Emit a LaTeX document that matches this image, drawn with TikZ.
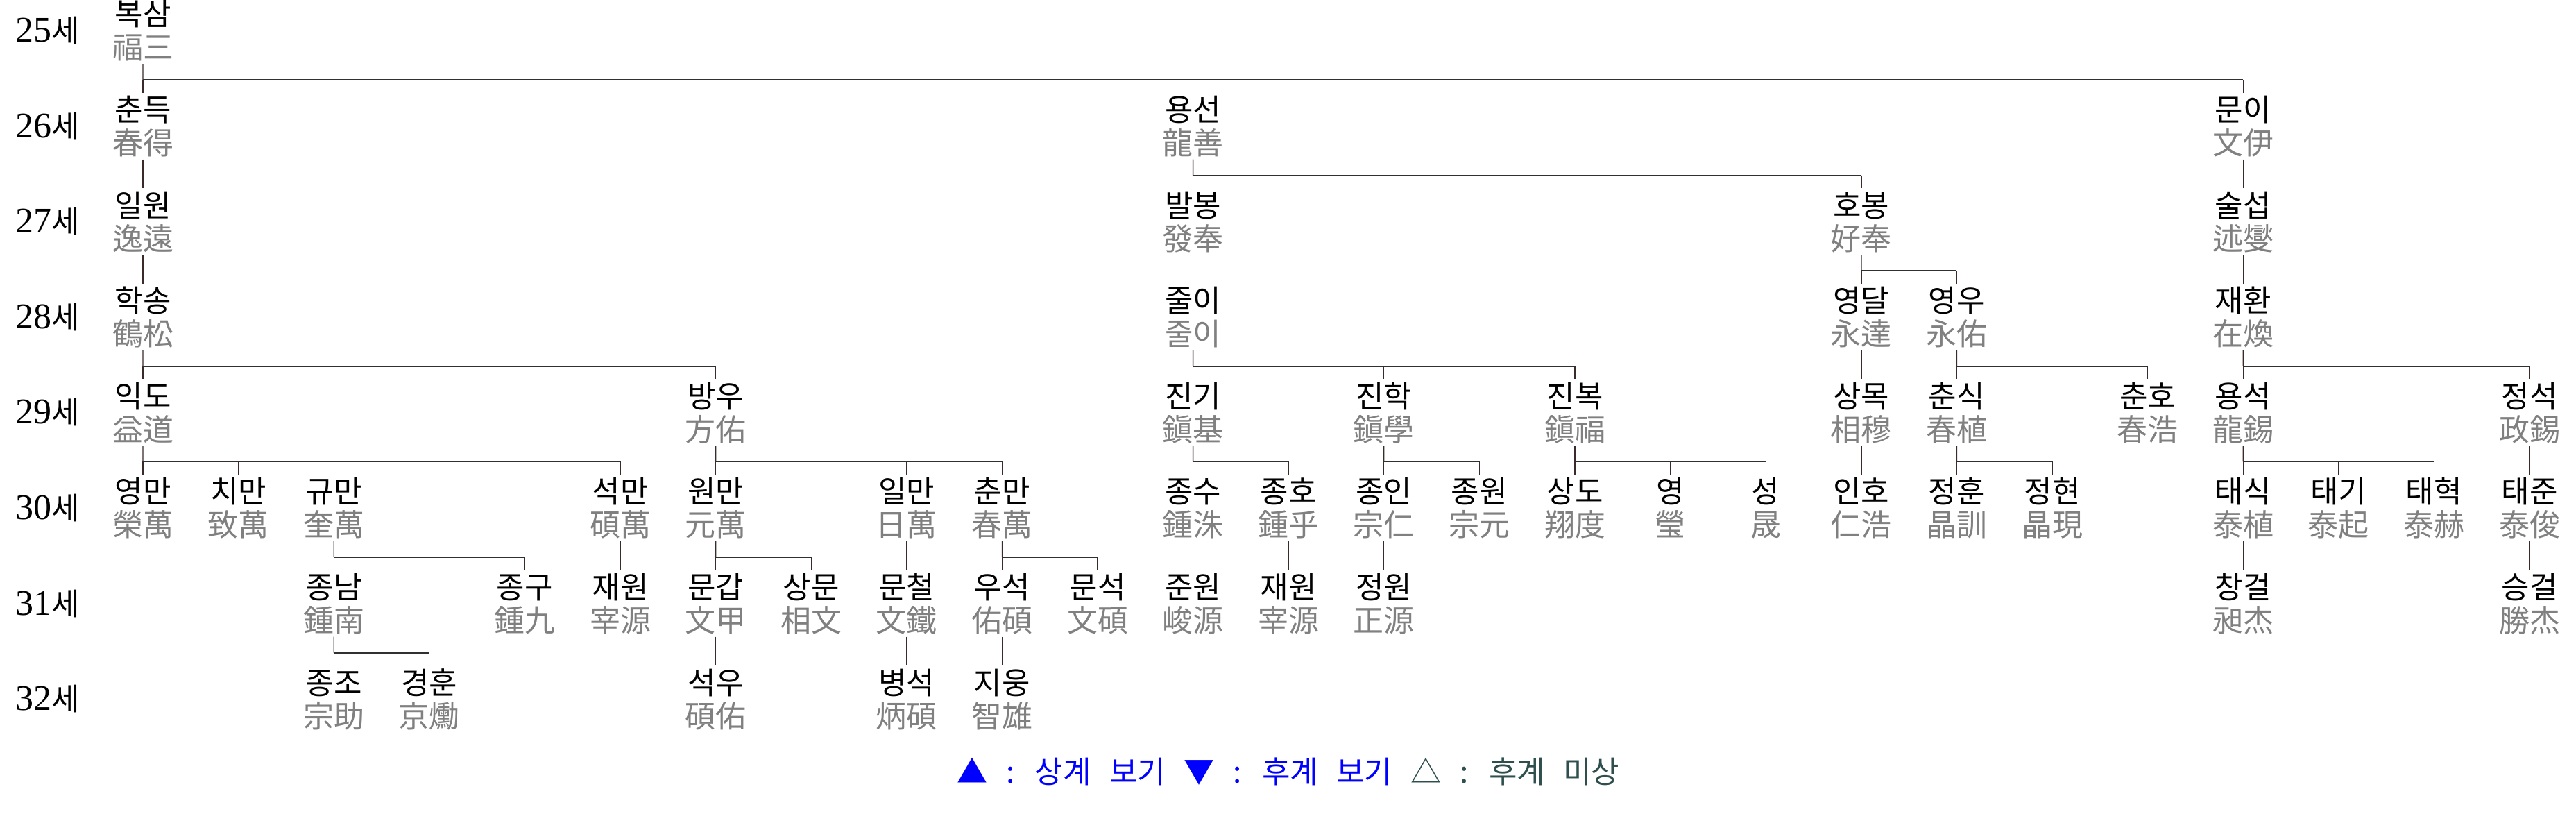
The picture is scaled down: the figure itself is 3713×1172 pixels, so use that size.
\documentclass[tikz,border=0pt]{standalone}
\usepackage{fontspec}
\setmainfont{Noto Sans CJK KR}
\newfontfamily\lserif{Liberation Serif}
\usetikzlibrary{calc}
\definecolor{hanja}{HTML}{808080}
\definecolor{vcol}{HTML}{3A2A2A}
\definecolor{bcol}{HTML}{303030}
\definecolor{legblue}{HTML}{0000FF}
\definecolor{legslate}{HTML}{2F4F4F}
\newcommand\nm[2]{\rule{0pt}{9.7pt}#1\\\textcolor{hanja}{#2}\rule[-1.3pt]{0pt}{1.3pt}}
\newcommand\kin[3]{%
  \coordinate (#1bar) at ($(#1.south)!0.55!(#1.south |- #2.north)$);
  \draw[vline] (#1.south) -- (#1bar);
  \draw[barline] (#1bar) -- (#1bar -| #2);
  \foreach \ch in {#3} {\draw[vline] (#1bar -| \ch) -- (\ch.north);}
}
\begin{document}
\begin{tikzpicture}[x=0.25pt,y=-0.25pt,
  person/.style={align=center,inner sep=0pt,outer xsep=0pt,outer ysep=0.5pt,font=\fontsize{11}{12}\selectfont},
  gen/.style={anchor=west,inner sep=0pt,font=\fontsize{11}{12}\selectfont},
  vline/.style={draw=vcol,line width=0.33pt},
  barline/.style={draw=bcol,line width=0.5pt},
  legend/.style={inner sep=0pt,font=\fontsize{11}{12}\selectfont}
]
\useasboundingbox (0,0) rectangle (3713,1172);
\fill[white] (0,0) rectangle (3713,1172);

\foreach \ry/\gn in {0/25,1/26,2/27,3/28,4/29,5/30,6/31,7/32}
  \node[gen] (gen\gn) at (22,{44+137.6*\ry}) {{\lserif\fontsize{13}{13}\selectfont\gn}세};

\foreach \id/\cx/\ry/\ko/\hj in {
 boksam/0/0/복삼/福三,
 chundeuk/0/1/춘득/春得, yongseon/11/1/용선/龍善, muni/22/1/문이/文伊,
 ilwon/0/2/일원/逸遠, balbong/11/2/발봉/發奉, hobong/18/2/호봉/好奉, sulseop/22/2/술섭/述燮,
 haksong/0/3/학송/鶴松, juli/11/3/줄이/줄이, yeongdal/18/3/영달/永達, yeongu/19/3/영우/永佑, jaehwan/22/3/재환/在煥,
 ikdo/0/4/익도/益道, bangu/6/4/방우/方佑, jingi/11/4/진기/鎭基, jinhak/13/4/진학/鎭學, jinbok/15/4/진복/鎭福,
 sangmok/18/4/상목/相穆, chunsik/19/4/춘식/春植, chunho/21/4/춘호/春浩, yongseok/22/4/용석/龍錫, jeongseok/25/4/정석/政錫,
 yeongman/0/5/영만/榮萬, chiman/1/5/치만/致萬, gyuman/2/5/규만/奎萬, seokman/5/5/석만/碩萬, wonman/6/5/원만/元萬,
 ilman/8/5/일만/日萬, chunman/9/5/춘만/春萬, jongsu/11/5/종수/鍾洙, jongho/12/5/종호/鍾乎, jongin/13/5/종인/宗仁,
 jongwon/14/5/종원/宗元, sangdo/15/5/상도/翔度, yeong/16/5/영/瑩, seong/17/5/성/晟, inho/18/5/인호/仁浩,
 jeonghun/19/5/정훈/晶訓, jeonghyeon/20/5/정현/晶現, taesik/22/5/태식/泰植, taegi/23/5/태기/泰起, taehyeok/24/5/태혁/泰赫, taejun/25/5/태준/泰俊,
 jongnam/2/6/종남/鍾南, jonggu/4/6/종구/鍾九, jaewona/5/6/재원/宰源, mungap/6/6/문갑/文甲, sangmun/7/6/상문/相文,
 muncheol/8/6/문철/文鐵, useok/9/6/우석/佑碩, munseok/10/6/문석/文碩, junwon/11/6/준원/峻源, jaewonb/12/6/재원/宰源,
 jeongwon/13/6/정원/正源, changgeol/22/6/창걸/昶杰, seunggeol/25/6/승걸/勝杰,
 jongjo/2/7/종조/宗助, gyeonghun/3/7/경훈/京爋, seogu/6/7/석우/碩佑, byeongseok/8/7/병석/炳碩, jiung/9/7/지웅/智雄}
  \node[person] (\id) at ({206+137.6*\cx},{44+137.6*\ry}) {\nm{\ko}{\hj}};

\kin{boksam}{muni}{chundeuk,yongseon,muni}
\draw[vline] (chundeuk.south) -- (ilwon.north);
\kin{yongseon}{hobong}{balbong,hobong}
\draw[vline] (muni.south) -- (sulseop.north);
\draw[vline] (ilwon.south) -- (haksong.north);
\draw[vline] (balbong.south) -- (juli.north);
\kin{hobong}{yeongu}{yeongdal,yeongu}
\draw[vline] (sulseop.south) -- (jaehwan.north);
\kin{haksong}{bangu}{ikdo,bangu}
\kin{juli}{jinbok}{jingi,jinhak,jinbok}
\draw[vline] (yeongdal.south) -- (sangmok.north);
\kin{yeongu}{chunho}{chunsik,chunho}
\kin{jaehwan}{jeongseok}{yongseok,jeongseok}
\kin{ikdo}{seokman}{yeongman,chiman,gyuman,seokman}
\kin{bangu}{chunman}{wonman,ilman,chunman}
\kin{jingi}{jongho}{jongsu,jongho}
\kin{jinhak}{jongwon}{jongin,jongwon}
\kin{jinbok}{seong}{sangdo,yeong,seong}
\draw[vline] (sangmok.south) -- (inho.north);
\kin{chunsik}{jeonghyeon}{jeonghun,jeonghyeon}
\kin{yongseok}{taehyeok}{taesik,taegi,taehyeok}
\draw[vline] (jeongseok.south) -- (taejun.north);
\kin{gyuman}{jonggu}{jongnam,jonggu}
\draw[vline] (seokman.south) -- (jaewona.north);
\kin{wonman}{sangmun}{mungap,sangmun}
\draw[vline] (ilman.south) -- (muncheol.north);
\kin{chunman}{munseok}{useok,munseok}
\draw[vline] (jongsu.south) -- (junwon.north);
\draw[vline] (jongho.south) -- (jaewonb.north);
\draw[vline] (jongin.south) -- (jeongwon.north);
\draw[vline] (taesik.south) -- (changgeol.north);
\draw[vline] (taejun.south) -- (seunggeol.north);
\kin{jongnam}{gyeonghun}{jongjo,gyeonghun}
\draw[vline] (mungap.south) -- (seogu.north);
\draw[vline] (muncheol.south) -- (byeongseok.north);
\draw[vline] (useok.south) -- (jiung.north);

\node[legend] (legendtext) at (1857,1112) {\spaceskip=6.6pt\textcolor{legblue}{▲ : 상계 보기 ▼ : 후계 보기} \textcolor{legslate}{△ : 후계 미상}};
\end{tikzpicture}
\end{document}
